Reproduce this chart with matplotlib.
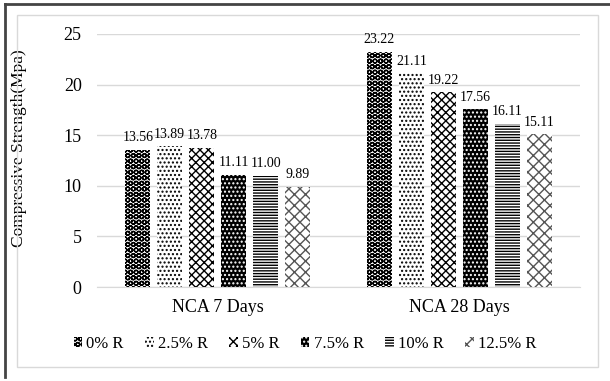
import matplotlib
matplotlib.use("Agg")
import matplotlib.pyplot as plt
import numpy as np
from matplotlib.lines import Line2D
from matplotlib.patches import Rectangle

categories = ["NCA 7 Days", "NCA 28 Days"]
series = ["0% R", "2.5% R", "5% R", "7.5% R", "10% R", "12.5% R"]
values = [
    [13.56, 23.22],
    [13.89, 21.11],
    [13.78, 19.22],
    [11.11, 17.56],
    [11.00, 16.11],
    [9.89, 15.11],
]
labels = [
    ["13.56", "23.22"],
    ["13.89", "21.11"],
    ["13.78", "19.22"],
    ["11.11", "17.56"],
    ["11.00", "16.11"],
    ["9.89", "15.11"],
]

# fill styles per series: face, hatch colour, hatch
styles = [
    ("white", "black", "OOO"),
    ("white", "black", "...."),
    ("white", "black", "xxxx"),
    ("black", "white", "...."),
    ("white", "black", "------"),
    ("white", "#555555", "xxx"),
]

plt.rcParams["font.family"] = ["Liberation Serif", "DejaVu Serif"]
plt.rcParams["hatch.linewidth"] = 1.0

fig = plt.figure(figsize=(6.10, 3.81), dpi=100)
ax = fig.add_axes([0.159, 1 - 287 / 381, 0.792, 253 / 381])

# chart frame
fig.add_artist(Rectangle((17 / 610, 1 - 367 / 381), 581 / 610, 352 / 381,
                         transform=fig.transFigure, fill=False,
                         edgecolor="#d9d9d9", lw=1.0))
fig.add_artist(Line2D([5 / 610, 1], [1 - 4 / 381, 1 - 4 / 381],
                      transform=fig.transFigure, color="#444444", lw=2))
fig.add_artist(Line2D([5 / 610, 5 / 610], [1 - 4 / 381, 1 - 377 / 381],
                      transform=fig.transFigure, color="#444444", lw=2))

x = np.arange(len(categories))
width = 0.105
step = 0.1325
handles = []
for i, (name, vals) in enumerate(zip(series, values)):
    face, hcol, hatch = styles[i]
    pos = x + (i - 2.5) * step
    bars = ax.bar(pos, vals, width, color=face, edgecolor=hcol, hatch=hatch,
                  linewidth=0, label=name, zorder=3)
    for b, txt in zip(bars, labels[i]):
        ax.annotate(txt, (b.get_x() + b.get_width() / 2, b.get_height()),
                    xytext=(0, 4), textcoords="offset points",
                    ha="center", va="bottom", fontsize=10)
    handles.append(bars[0])

ax.set_xlim(-0.5, 1.5)
ax.set_ylim(0, 25)
ax.set_yticks([0, 5, 10, 15, 20, 25])
ax.yaxis.grid(True, color="#d9d9d9", lw=1)
ax.set_axisbelow(True)
for s in ["top", "right", "left"]:
    ax.spines[s].set_visible(False)
ax.spines["bottom"].set_color("#d9d9d9")
ax.tick_params(axis="both", length=0, labelsize=13)
ax.tick_params(axis="y", pad=11)
ax.tick_params(axis="x", pad=9)
ax.set_xticks(x)
ax.set_xticklabels(categories, fontsize=13)
ax.set_ylabel("Compressive Strength(Mpa)", fontsize=12.5)
ax.yaxis.set_label_coords(-0.145, 0.55)

fig.legend(handles, series, loc="center", bbox_to_anchor=(305 / 610, 1 - 344 / 381),
           ncol=6, frameon=False, fontsize=12, handlelength=0.5, handleheight=0.5,
           handletextpad=0.25, columnspacing=1.3, borderpad=0)

fig.savefig("out.png", dpi=100)
